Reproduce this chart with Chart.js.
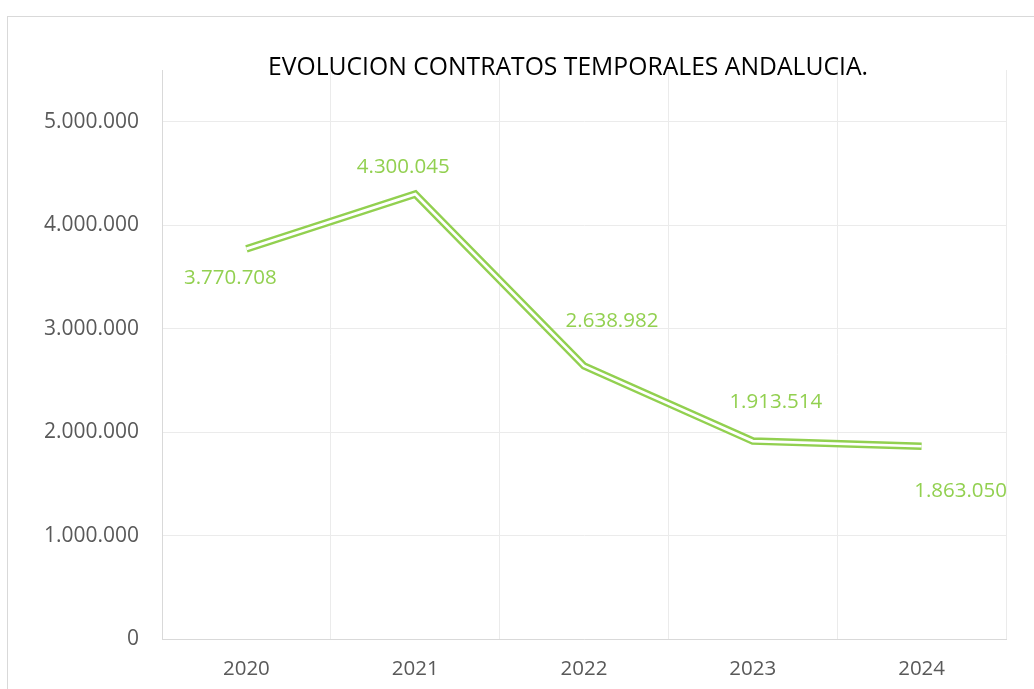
<!DOCTYPE html>
<html>
<head>
<meta charset="utf-8">
<title>Evolución contratos temporales Andalucía</title>
<script src="https://cdn.jsdelivr.net/npm/chart.js@4"></script>
<style>
  html, body { margin: 0; padding: 0; background: #fff; overflow: hidden; }
  #frame {
    position: absolute; left: 7px; top: 16px;
    width: 1122px; height: 690px;
    border: 1px solid #d9d9d9; background: #fff;
  }
  canvas { display: block; }
</style>
</head>
<body>
<div id="frame"><canvas id="chart" width="1122" height="672"></canvas></div>
<script>
const years = ['2020', '2021', '2022', '2023', '2024'];
const contratos = [3770708, 4300045, 2638982, 1913514, 1863050];
const yTicks = [0, 1000000, 2000000, 3000000, 4000000, 5000000];

const GREEN = '#92d050';
const TEXT = '#595959';
const FONT = "'Open Sans', 'DejaVu Sans', sans-serif";

function fmt(n) {
  return String(Math.round(n)).replace(/\B(?=(\d{3})+(?!\d))/g, '.');
}

// where each value label sits relative to its point
const labelShift = [[-16, 29], [-12, -27], [28, -45], [23, -39], [39, 45]];

const valueLabels = {
  id: 'valueLabels',
  afterDatasetsDraw(chart) {
    const meta = chart.getDatasetMeta(0);
    const ctx = chart.ctx;
    ctx.save();
    ctx.font = '20.5px ' + FONT;
    ctx.fillStyle = GREEN;
    ctx.textAlign = 'center';
    ctx.textBaseline = 'middle';
    meta.data.forEach((pt, i) => {
      const [dx, dy] = labelShift[i];
      ctx.fillText(fmt(contratos[i]), pt.x + dx, pt.y + dy);
    });
    ctx.restore();
  }
};

const chartTitle = {
  id: 'chartTitle',
  afterDraw(chart) {
    const ctx = chart.ctx;
    ctx.save();
    ctx.font = '25px ' + FONT;
    ctx.fillStyle = '#000';
    ctx.textAlign = 'center';
    ctx.textBaseline = 'middle';
    ctx.fillText('EVOLUCION CONTRATOS TEMPORALES ANDALUCIA.', 560, 51, 600);
    ctx.restore();
  }
};

new Chart(document.getElementById('chart'), {
  type: 'line',
  data: {
    labels: years,
    datasets: [
      {
        // thin white core, drawn on top to split the stroke in two
        data: contratos,
        borderColor: '#ffffff',
        borderWidth: 2.7,
        pointRadius: 0,
        tension: 0,
        borderJoinStyle: 'miter',
        order: 0
      },
      {
        data: contratos,
        borderColor: GREEN,
        borderWidth: 7.5,
        pointRadius: 0,
        tension: 0,
        borderJoinStyle: 'miter',
        order: 1
      }
    ]
  },
  options: {
    responsive: false,
    animation: false,
    devicePixelRatio: 1,
    layout: { padding: { left: 0, right: 124, top: 53, bottom: 0 } },
    plugins: {
      legend: { display: false },
      tooltip: { enabled: false },
      title: { display: false }
    },
    scales: {
      x: {
        offset: true,
        grid: {
          offset: true,
          drawTicks: false,
          color: '#ebebeb',
          lineWidth: 1
        },
        border: { color: '#d9d9d9', width: 1 },
        ticks: {
          color: TEXT,
          font: { family: FONT, size: 20.5 },
          padding: 18
        },
        afterFit(scale) { scale.height = 50; }
      },
      y: {
        min: 0,
        max: 5500000,
        grid: {
          drawTicks: false,
          color: (c) => (c.tick && c.tick.value > 5000000) ? 'rgba(0,0,0,0)' : '#ebebeb',
          lineWidth: 1
        },
        border: { color: '#d9d9d9', width: 1 },
        afterBuildTicks(scale) {
          scale.ticks = yTicks.map(v => ({ value: v }));
        },
        ticks: {
          color: TEXT,
          font: { family: FONT, size: 21 },
          padding: 23,
          callback: (v) => fmt(v)
        },
        afterFit(scale) { scale.width = 154; }
      }
    }
  },
  plugins: [valueLabels, chartTitle]
});
</script>
</body>
</html>
